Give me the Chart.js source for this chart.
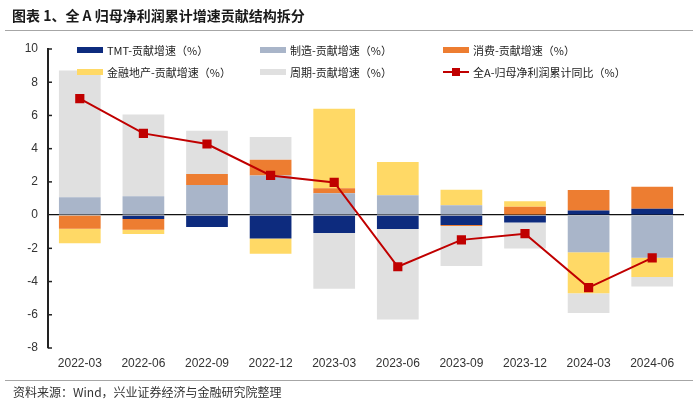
<!DOCTYPE html>
<html>
<head>
<meta charset="utf-8">
<script src="https://cdn.jsdelivr.net/npm/chart.js@4.4.1/dist/chart.umd.min.js"></script>
<style>
  body { margin: 0; background: #fff; }
  #wrap { position: relative; width: 700px; height: 403px; overflow: hidden; }
  #grafica { position: absolute; left: 0; top: 0; }
  .titulo {
    position: absolute; left: 12px; top: 5px; line-height: 20px;
    font: bold 14px "Noto Sans CJK SC", sans-serif; color: #1a1a1a;
  }
  .raya { position: absolute; left: 5px; width: 688px; border-top: 1.5px solid #a6a6a6; }
  .fuente {
    position: absolute; left: 13px; top: 383px; line-height: 16px;
    font: 12px "Noto Sans CJK SC", sans-serif; color: #333;
  }
</style>
</head>
<body>
<div id="wrap">
  <canvas id="grafica" width="700" height="403"></canvas>
  <div class="titulo">图表 1、全 A 归母净利润累计增速贡献结构拆分</div>
  <div class="raya" style="top:30px"></div>
  <div class="raya" style="top:380px"></div>
  <div class="fuente">资料来源：Wind，兴业证券经济与金融研究院整理</div>
</div>
<script>
const categorias = ["2022-03", "2022-06", "2022-09", "2022-12", "2023-03", "2023-06", "2023-09", "2023-12", "2024-03", "2024-06"];

// 贡献增速 (%)
const tmt = [0, -0.24, -0.72, -1.41, -1.08, -0.84, -0.6, -0.44, 0.28, 0.38];
const zhizao = [1.08, 1.14, 1.81, 2.39, 1.31, 1.2, 0.6, 0, -2.23, -2.57];
const xiaofei = [-0.82, -0.64, 0.66, 0.94, 0.3, 0, -0.05, 0.5, 1.23, 1.33];
const jinrong = [-0.87, -0.26, 0, -0.92, 4.8, 1.99, 0.93, 0.34, -2.47, -1.16];
const zhouqi = [7.63, 4.92, 2.61, 1.37, -3.36, -5.45, -2.42, -1.57, -1.2, -0.57];

// 全A-归母净利润累计同比 (%)
const quanA = [7.01, 4.92, 4.28, 2.39, 1.97, -3.11, -1.49, -1.12, -4.36, -2.57];

const yTicks = [-8, -6, -4, -2, 0, 2, 4, 6, 8, 10];

const fuenteNum = "'Liberation Sans', Arial, sans-serif";

function barra(label, data, color) {
  return { type: "bar", label: label, data: data, backgroundColor: color, order: 1, stack: "s" };
}

// leyenda en 3 columnas dentro del area del grafico
const leyenda = {
  id: "leyenda",
  afterDraw(chart) {
    const ctx = chart.ctx;
    const cols = [77, 260, 443];
    const filas = [50, 72];
    const items = chart.data.datasets.map((ds) => ds);
    // orden visual: TMT, 制造, 消费 / 金融地产, 周期, 全A
    const orden = [0, 1, 2, 3, 4, 5];
    ctx.save();
    ctx.font = "11px 'Noto Sans CJK SC', sans-serif";
    ctx.textBaseline = "middle";
    ctx.fillStyle = "#222";
    orden.forEach((idx, i) => {
      const ds = items[idx];
      const x = cols[i % 3];
      const y = filas[Math.floor(i / 3)];
      if (ds.type === "line") {
        ctx.strokeStyle = ds.borderColor;
        ctx.lineWidth = 2;
        ctx.beginPath();
        ctx.moveTo(x, y);
        ctx.lineTo(x + 26, y);
        ctx.stroke();
        ctx.fillStyle = ds.backgroundColor;
        ctx.fillRect(x + 9, y - 4, 8, 8);
      } else {
        ctx.fillStyle = ds.backgroundColor;
        ctx.fillRect(x, y - 3, 26, 6);
      }
      ctx.fillStyle = "#222";
      ctx.fillText(ds.label, x + 30, y + 0.5);
    });
    ctx.restore();
  },
};

// marcas cortas hacia dentro en el eje y
const marcasY = {
  id: "marcasY",
  afterDraw(chart) {
    const ctx = chart.ctx;
    const y = chart.scales.y;
    const x0 = chart.chartArea.left;
    ctx.save();
    ctx.strokeStyle = "#222";
    ctx.lineWidth = 1.5;
    y.ticks.forEach((t) => {
      if (t.value === 0) return;
      const py = y.getPixelForValue(t.value);
      ctx.beginPath();
      ctx.moveTo(x0, py);
      ctx.lineTo(x0 + 4, py);
      ctx.stroke();
    });
    ctx.restore();
  },
};

new Chart(document.getElementById("grafica").getContext("2d"), {
  data: {
    labels: categorias,
    datasets: [
      barra("TMT-贡献增速（%）", tmt, "#0d2b7e"),
      barra("制造-贡献增速（%）", zhizao, "#a9b5c9"),
      barra("消费-贡献增速（%）", xiaofei, "#ed7d31"),
      barra("金融地产-贡献增速（%）", jinrong, "#ffd966"),
      barra("周期-贡献增速（%）", zhouqi, "#e0e0e0"),
      {
        type: "line",
        label: "全A-归母净利润累计同比（%）",
        data: quanA,
        borderColor: "#c00000",
        backgroundColor: "#c00000",
        borderWidth: 2,
        pointStyle: "rect",
        pointRadius: 6.5,
        pointBorderWidth: 0,
        order: 0,
        stack: "linea",
      },
    ],
  },
  options: {
    responsive: false,
    animation: false,
    layout: { padding: { top: 49, right: 16, bottom: 0, left: 0 } },
    datasets: { bar: { categoryPercentage: 1, barPercentage: 0.656 } },
    plugins: { legend: { display: false }, tooltip: { enabled: false } },
    scales: {
      x: {
        stacked: true,
        grid: { display: false, drawTicks: false },
        border: { display: false },
        ticks: { padding: 8, color: "#333", font: { family: fuenteNum, size: 12 } },
        afterFit: (s) => { s.height = 55; },
      },
      y: {
        stacked: true,
        min: -8,
        max: 10,
        afterBuildTicks: (s) => { s.ticks = yTicks.map((v) => ({ value: v })); },
        grid: {
          drawTicks: false,
          color: (c) => (c.tick && c.tick.value === 0 ? "#111" : "transparent"),
          lineWidth: 1.3,
        },
        border: { display: true, color: "#222", width: 2 },
        ticks: { padding: 10, color: "#333", font: { family: fuenteNum, size: 12 } },
        afterFit: (s) => { s.width = 48; },
      },
    },
  },
  plugins: [leyenda, marcasY],
});
</script>
</body>
</html>
